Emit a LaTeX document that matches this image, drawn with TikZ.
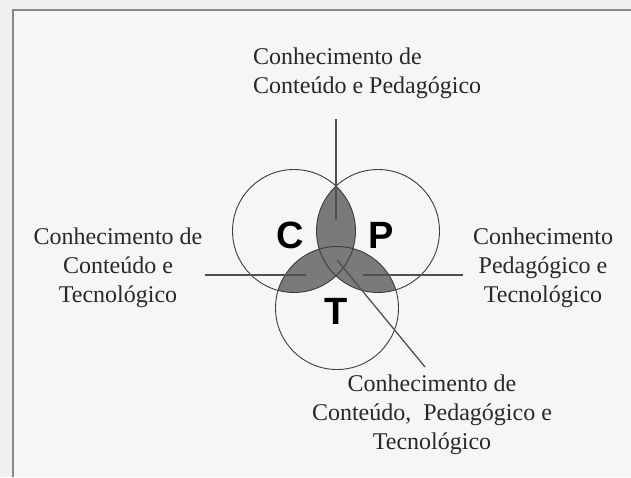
\documentclass[tikz,border=0pt]{standalone}
\usepackage{fontspec}
\setmainfont{Liberation Serif}
\newfontfamily\letterfont{Liberation Sans}
\definecolor{outerbg}{RGB}{240,240,240}
\definecolor{innerbg}{RGB}{246,246,246}
\definecolor{framecol}{RGB}{135,135,135}
\definecolor{shadecol}{RGB}{122,122,122}
\definecolor{circcol}{RGB}{60,60,60}
\definecolor{linecol}{RGB}{80,80,80}
\definecolor{textcol}{RGB}{40,40,40}
\tikzset{
  label text/.style={font=\fontsize{24}{29}\selectfont, text=textcol, align=center, inner sep=0pt},
  big letter/.style={font=\letterfont\bfseries\fontsize{38}{38}\selectfont, text=black, inner sep=0pt},
  ring/.style={draw=circcol, line width=0.9pt},
  connector/.style={draw=linecol, line width=1.3pt},
}
\begin{document}
\begin{tikzpicture}[x=1pt,y=-1pt]
\useasboundingbox (0,0) rectangle (631,477);
\fill[outerbg] (0,0) rectangle (631,477);
\fill[innerbg] (13,10) rectangle (631,477);
\draw[framecol, line width=2.6pt] (13,477) -- (13,10) -- (631,10);

% circle centres
\coordinate (cC) at (294,231);
\coordinate (cP) at (378,231);
\coordinate (cT) at (337,308);
\def\rad{61.5}

% shaded pairwise intersections
\begin{scope}
  \clip (cC) circle (\rad);
  \fill[shadecol] (cP) circle (\rad);
  \fill[shadecol] (cT) circle (\rad);
\end{scope}
\begin{scope}
  \clip (cP) circle (\rad);
  \fill[shadecol] (cT) circle (\rad);
\end{scope}

\draw[ring] (cC) circle (\rad);
\draw[ring] (cP) circle (\rad);
\draw[ring] (cT) circle (\rad);

\node[big letter] (C) at (290,235) {C};
\node[big letter] (P) at (381,235) {P};
\node[big letter] (T) at (336,311) {T};

% labels
\node[label text, align=left, anchor=west] (lblCP) at (253,73) {Conhecimento de\\Conteúdo e Pedagógico};
\node[label text] (lblCT) at (118,268) {Conhecimento de\\Conteúdo e\\Tecnológico};
\node[label text] (lblPT) at (543,268) {Conhecimento\\Pedagógico e\\Tecnológico};
\node[label text] (lblCPT) at (432,415) {Conhecimento de\\Conteúdo,\ \ Pedagógico e\\Tecnológico};

% connector end points
\coordinate (topA) at (336,119);
\coordinate (topB) at (336,220);
\coordinate (leftA) at (205,275);
\coordinate (leftB) at (306,275);
\coordinate (rightA) at (363,275);
\coordinate (rightB) at (463,275);
\coordinate (diagA) at (337,260);
\coordinate (diagB) at (425,367);

\draw[connector] (topA) -- (topB);
\draw[connector] (leftA) -- (leftB);
\draw[connector] (rightA) -- (rightB);
\draw[connector] (diagA) -- (diagB);
\end{tikzpicture}
\end{document}
